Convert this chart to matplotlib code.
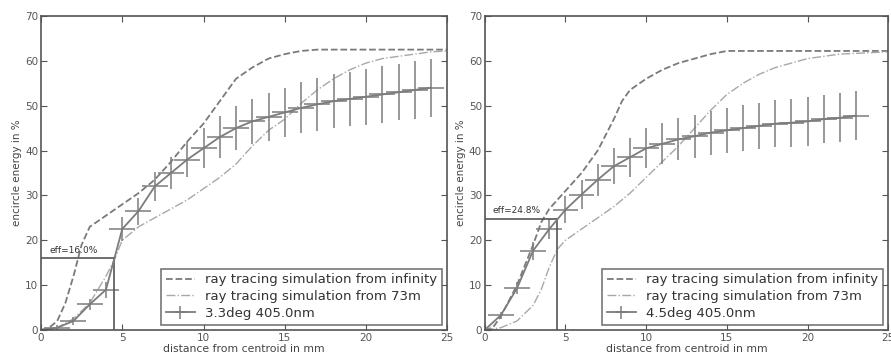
import matplotlib
matplotlib.use('Agg')
import matplotlib.pyplot as plt
import numpy as np

# left panel: 3.3deg
x_meas_l = [0, 1, 2, 3, 4, 5, 6, 7, 8, 9, 10, 11, 12, 13, 14, 15, 16, 17, 18, 19, 20, 21, 22, 23, 24]
y_meas_l = [0, 0.5, 2, 5.7, 9, 22.5, 26.5, 32, 35, 38, 40.5, 43, 45, 46.5, 47.5, 48.5, 49.5, 50.3, 51,
            51.5, 52, 52.5, 53, 53.5, 54]
yerr_l = [0.3, 0.5, 0.8, 1.2, 1.8, 2.7, 3.0, 3.3, 3.6, 4.0, 4.5, 4.7, 4.9, 5.1, 5.3, 5.5, 5.7, 5.9, 6.0,
          6.1, 6.2, 6.3, 6.3, 6.4, 6.5]
x_inf_l = [0, 0.5, 1, 1.5, 2, 2.5, 3, 4, 5, 6, 7, 8, 9, 10, 11, 12, 13, 14, 15, 16, 17, 25]
y_inf_l = [0, 0.5, 2, 6, 12, 19, 23, 25.5, 28, 30.5, 33.5, 37.5, 42, 46, 51, 56, 58.5, 60.5, 61.5, 62.2, 62.5, 62.5]
x_73_l = [0, 1, 2, 3, 3.5, 4, 4.5, 5, 6, 7, 8, 9, 10, 11, 12, 13, 14, 15, 16, 17, 18, 19, 20, 21, 22, 23, 24, 25]
y_73_l = [0, 0.5, 2.5, 6, 9, 12, 15.5, 20, 23, 25, 27, 29, 31.5, 34, 37, 41, 44.5, 47, 50.5, 53.5, 56, 58,
          59.5, 60.5, 61, 61.5, 62, 62.2]

# right panel: 4.5deg
x_meas_r = [0, 1, 2, 3, 4, 5, 6, 7, 8, 9, 10, 11, 12, 13, 14, 15, 16, 17, 18, 19, 20, 21, 22, 23]
y_meas_r = [0, 3.3, 9.3, 17.7, 22.5, 26.8, 30.2, 33.5, 36.5, 38.5, 40.5, 41.5, 42.5, 43.2, 44, 44.5, 45,
            45.5, 46, 46.2, 46.5, 47, 47.3, 47.8]
yerr_r = [0.3, 0.8, 1.3, 2.0, 2.3, 3.0, 3.3, 3.6, 4.0, 4.3, 4.5, 4.6, 4.7, 4.8, 4.9, 5.0, 5.1, 5.2, 5.3,
          5.3, 5.4, 5.4, 5.5, 5.5]
x_inf_r = [0, 0.5, 1, 2, 3, 3.5, 4, 4.5, 5, 6, 7, 8, 8.5, 9, 10, 11, 12, 13, 14, 15, 25]
y_inf_r = [0, 0.5, 3, 10, 19, 24, 27, 29, 31, 35, 40, 47, 51, 53.5, 56, 58, 59.5, 60.5, 61.5, 62.2, 62.2]
x_73_r = [0, 1, 2, 3, 3.5, 4, 4.5, 5, 6, 7, 8, 9, 10, 11, 12, 13, 14, 15, 16, 17, 18, 19, 20, 21, 22, 25]
y_73_r = [0, 0.5, 2, 5.5, 9, 14, 18, 20, 22.5, 25, 27.5, 30.5, 34, 37.5, 41, 45, 49, 52.5, 55, 57, 58.5,
          59.5, 60.5, 61, 61.5, 62]

labels = ['3.3deg 405.0nm', '4.5deg 405.0nm']
eff = [16.0, 24.8]
r_eff = 4.5

fig = plt.figure(figsize=(8.91, 3.63), dpi=100)
ax1 = fig.add_axes([0.046, 0.091, 0.456, 0.865])
ax2 = fig.add_axes([0.544, 0.091, 0.453, 0.865])

panels = [
    (ax1, x_meas_l, y_meas_l, yerr_l, x_inf_l, y_inf_l, x_73_l, y_73_l),
    (ax2, x_meas_r, y_meas_r, yerr_r, x_inf_r, y_inf_r, x_73_r, y_73_r),
]

for i, (ax, xm, ym, ye, xi, yi, x7, y7) in enumerate(panels):
    ax.plot(xi, yi, '--', color='#7a7a7a', lw=1.3, label='ray tracing simulation from infinity')
    ax.plot(x7, y7, '-.', color='#a8a8a8', lw=1.0, label='ray tracing simulation from 73m')
    ax.errorbar(xm, ym, yerr=ye, xerr=0.8, color='#7c7c7c', lw=1.3, elinewidth=1.1,
                capsize=0, label=labels[i])
    ax.plot([0, r_eff], [eff[i], eff[i]], color='#555555', lw=1.2)
    ax.plot([r_eff, r_eff], [0, eff[i]], color='#555555', lw=1.2)
    ax.text(0.5, eff[i] + 1.2, 'eff=%.1f%%' % eff[i], fontsize=6.5, color='#333333')
    ax.set_xlim(0, 25)
    ax.set_ylim(0, 70)
    ax.set_xticks([0, 5, 10, 15, 20, 25])
    ax.set_yticks(range(0, 71, 10))
    ax.tick_params(direction='in', top=True, right=True, labelsize=7.5, colors='#555555',
                   length=4, pad=2)
    for s in ax.spines.values():
        s.set_color('#555555')
        s.set_linewidth(1.2)
    ax.set_xlabel('distance from centroid in mm', fontsize=7.8, color='#444444', labelpad=1)
    ax.set_ylabel('encircle energy in %', fontsize=7.5, color='#444444', labelpad=2)
    leg = ax.legend(loc='lower right', fontsize=9.5, fancybox=False, handlelength=2.2,
                    borderpad=0.35, labelspacing=0.3, borderaxespad=0.4, handletextpad=0.8)
    leg.get_frame().set_edgecolor('#555555')
    leg.get_frame().set_linewidth(1.2)
    for t in leg.get_texts():
        t.set_color('#333333')

plt.savefig('out.png', dpi=100)
